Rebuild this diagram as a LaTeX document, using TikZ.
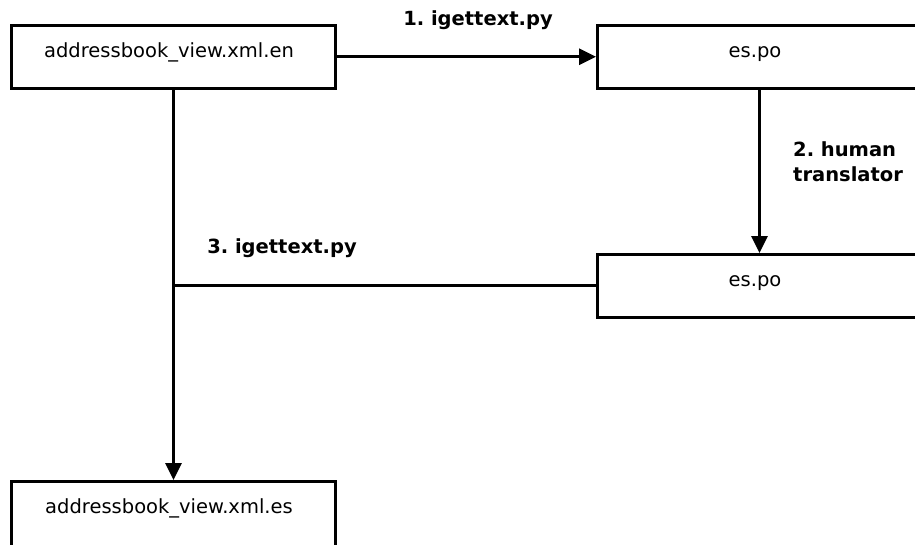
\documentclass[tikz,border=0pt]{standalone}
\usepackage{fontspec}
\setmainfont{DejaVu Sans}
\usetikzlibrary{arrows.meta}
\frenchspacing
\newcommand\boxtextpad[1]{#1\hspace*{9pt}}
\begin{document}
\begin{tikzpicture}[x=1pt,y=-1pt,
  filebox/.style={draw, line width=3pt, inner sep=0pt, minimum width=324pt,
    text height=31.5pt, text depth=31pt, font=\fontsize{19.5}{23}\selectfont},
  steplabel/.style={font=\fontsize{19.5}{25}\selectfont\bfseries, inner sep=0pt},
  flow/.style={line width=3pt, -{Triangle[length=17pt,width=16pt]}},
  joinline/.style={line width=3pt}]
\useasboundingbox (0,0) rectangle (915,544);
\node[filebox] (A) at (173.5,56.75) {\boxtextpad{addressbook\_view.xml.en}};
\node[filebox] (B) at (759.5,56.75) {\boxtextpad{es.po}};
\node[filebox] (C) at (759.5,285.75) {\boxtextpad{es.po}};
\node[filebox, text depth=50pt] (D) at (173.5,522.25) {\boxtextpad{addressbook\_view.xml.es}};
\draw[flow] (A.east) -- (B.west);
\draw[flow] (B.south) -- (C.north);
\draw[flow] (A.south) -- (D.north);
\coordinate (J) at (A.south |- C.west);
\draw[joinline] (C.west) -- (J);
\node[steplabel, anchor=base] (L1) at (478,25) {1. igettext.py};
\node[steplabel, anchor=base west, align=left] (L2) at (793,181.7) {2. human\\translator};
\node[steplabel, anchor=base] (L3) at (282,253) {3. igettext.py};
\end{tikzpicture}
\end{document}
